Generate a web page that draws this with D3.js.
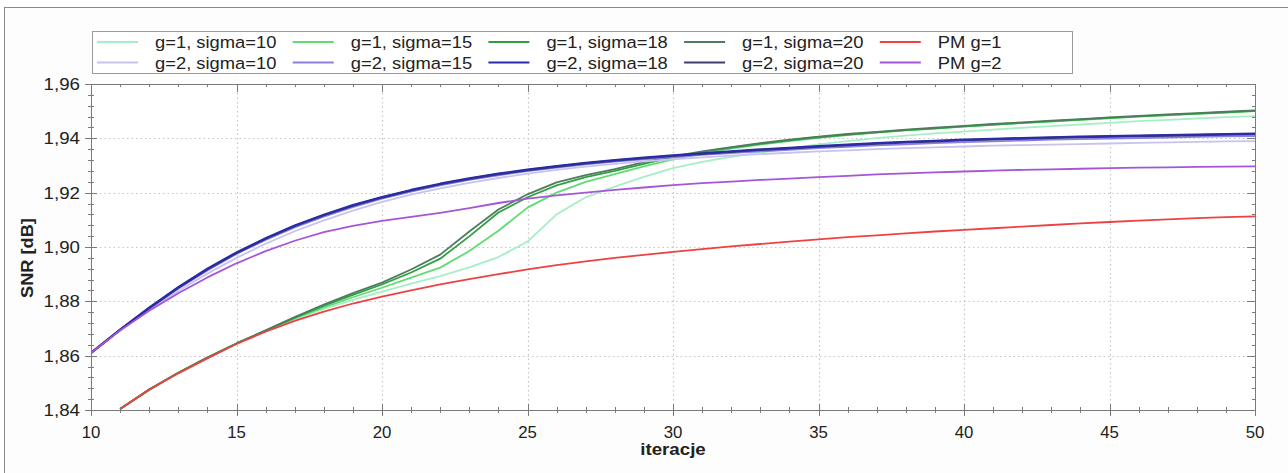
<!DOCTYPE html>
<html>
<head>
<meta charset="utf-8">
<script src="https://cdn.jsdelivr.net/npm/d3@7"></script>
<style>
  html, body { margin: 0; padding: 0; background: #ffffff; }
  svg { display: block; font-family: "Liberation Sans", Arial, sans-serif; }
</style>
</head>
<body>
<svg id="chart" width="1288" height="473"></svg>
<script>
// Iterations 10..50; g=1 runs have no value at iteration 10 (below the plotted range)
const iterations = d3.range(10, 51);

const g1s10 = [null, 1.8404, 1.8475, 1.8537, 1.8593, 1.8645, 1.8690, 1.8733, 1.8772, 1.8805, 1.8836, 1.8865, 1.8893, 1.8925, 1.8963, 1.9020, 1.9120, 1.9183, 1.9222, 1.9258, 1.9290, 1.9313, 1.9332, 1.9348, 1.9363, 1.9378, 1.9390, 1.9401, 1.9410, 1.9418, 1.9425, 1.9432, 1.9439, 1.9445, 1.9451, 1.9457, 1.9463, 1.9468, 1.9473, 1.9478, 1.9482];
const g1s15 = [null, 1.8404, 1.8475, 1.8537, 1.8593, 1.8645, 1.8691, 1.8737, 1.8778, 1.8815, 1.8850, 1.8887, 1.8924, 1.8985, 1.9060, 1.9145, 1.9200, 1.9240, 1.9268, 1.9297, 1.9323, 1.9345, 1.9362, 1.9377, 1.9390, 1.9402, 1.9412, 1.9421, 1.9429, 1.9436, 1.9443, 1.9450, 1.9456, 1.9462, 1.9468, 1.9474, 1.9480, 1.9485, 1.9490, 1.9495, 1.9500];
const g1s18 = [null, 1.8404, 1.8475, 1.8537, 1.8593, 1.8645, 1.8692, 1.8740, 1.8784, 1.8824, 1.8862, 1.8906, 1.8957, 1.9039, 1.9127, 1.9183, 1.9227, 1.9257, 1.9280, 1.9306, 1.9331, 1.9350, 1.9366, 1.9380, 1.9393, 1.9404, 1.9414, 1.9422, 1.9430, 1.9437, 1.9444, 1.9451, 1.9457, 1.9463, 1.9469, 1.9475, 1.9481, 1.9486, 1.9491, 1.9496, 1.9501];
const g1s20 = [null, 1.8404, 1.8475, 1.8537, 1.8593, 1.8645, 1.8693, 1.8742, 1.8788, 1.8830, 1.8869, 1.8917, 1.8972, 1.9057, 1.9138, 1.9194, 1.9238, 1.9265, 1.9287, 1.9312, 1.9334, 1.9352, 1.9368, 1.9382, 1.9395, 1.9406, 1.9416, 1.9424, 1.9432, 1.9439, 1.9446, 1.9453, 1.9459, 1.9465, 1.9471, 1.9477, 1.9483, 1.9488, 1.9493, 1.9498, 1.9503];
const pmG1  = [null, 1.8404, 1.8475, 1.8535, 1.8590, 1.8643, 1.8688, 1.8728, 1.8762, 1.8792, 1.8817, 1.8840, 1.8862, 1.8882, 1.8900, 1.8918, 1.8933, 1.8947, 1.8960, 1.8971, 1.8982, 1.8992, 1.9002, 1.9011, 1.9020, 1.9028, 1.9036, 1.9043, 1.9050, 1.9057, 1.9063, 1.9069, 1.9075, 1.9081, 1.9087, 1.9092, 1.9097, 1.9102, 1.9106, 1.9110, 1.9113];

const g2s10 = [1.8610, 1.8693, 1.8768, 1.8838, 1.8902, 1.8960, 1.9012, 1.9058, 1.9098, 1.9134, 1.9166, 1.9193, 1.9216, 1.9236, 1.9254, 1.9270, 1.9284, 1.9296, 1.9306, 1.9315, 1.9323, 1.9330, 1.9336, 1.9342, 1.9347, 1.9352, 1.9356, 1.9360, 1.9364, 1.9367, 1.9370, 1.9373, 1.9375, 1.9377, 1.9379, 1.9381, 1.9383, 1.9385, 1.9387, 1.9389, 1.9390];
const g2s15 = [1.8610, 1.8694, 1.8773, 1.8847, 1.8914, 1.8974, 1.9026, 1.9072, 1.9112, 1.9147, 1.9178, 1.9204, 1.9227, 1.9247, 1.9264, 1.9279, 1.9292, 1.9304, 1.9314, 1.9323, 1.9331, 1.9339, 1.9346, 1.9352, 1.9358, 1.9364, 1.9369, 1.9374, 1.9378, 1.9382, 1.9386, 1.9389, 1.9392, 1.9395, 1.9397, 1.9399, 1.9401, 1.9403, 1.9405, 1.9407, 1.9408];
const g2s18 = [1.8610, 1.8696, 1.8777, 1.8852, 1.8920, 1.8980, 1.9032, 1.9079, 1.9119, 1.9154, 1.9184, 1.9210, 1.9233, 1.9253, 1.9270, 1.9285, 1.9298, 1.9310, 1.9320, 1.9329, 1.9337, 1.9345, 1.9352, 1.9359, 1.9365, 1.9371, 1.9377, 1.9382, 1.9387, 1.9391, 1.9395, 1.9398, 1.9401, 1.9404, 1.9406, 1.9408, 1.9410, 1.9412, 1.9414, 1.9416, 1.9417];
const g2s20 = [1.8610, 1.8695, 1.8775, 1.8850, 1.8918, 1.8978, 1.9030, 1.9077, 1.9117, 1.9152, 1.9182, 1.9208, 1.9231, 1.9251, 1.9268, 1.9283, 1.9296, 1.9308, 1.9318, 1.9327, 1.9335, 1.9343, 1.9350, 1.9357, 1.9363, 1.9369, 1.9375, 1.9380, 1.9385, 1.9389, 1.9393, 1.9396, 1.9399, 1.9402, 1.9404, 1.9406, 1.9408, 1.9410, 1.9412, 1.9414, 1.9415];
const pmG2  = [1.8610, 1.8693, 1.8765, 1.8830, 1.8888, 1.8940, 1.8985, 1.9023, 1.9055, 1.9078, 1.9096, 1.9111, 1.9126, 1.9143, 1.9162, 1.9178, 1.9190, 1.9200, 1.9210, 1.9219, 1.9228, 1.9235, 1.9241, 1.9247, 1.9252, 1.9257, 1.9262, 1.9267, 1.9271, 1.9275, 1.9278, 1.9281, 1.9284, 1.9286, 1.9288, 1.9290, 1.9292, 1.9293, 1.9295, 1.9296, 1.9297];

const seriesNames = [
  "g=1, sigma=10", "g=1, sigma=15", "g=1, sigma=18", "g=1, sigma=20", "PM g=1",
  "g=2, sigma=10", "g=2, sigma=15", "g=2, sigma=18", "g=2, sigma=20", "PM g=2"
];
const seriesValues = [g1s10, g1s15, g1s18, g1s20, pmG1, g2s10, g2s15, g2s18, g2s20, pmG2];
const seriesColors = [
  "#a6efc6", "#5fdc72", "#2f9f44", "#4e7c5c", "#ee4242",
  "#c6c4ee", "#8b80e0", "#2b2ba8", "#3d3d6e", "#a556d8"
];
// painting order: the g=2, sigma=18 curve sits on top of its near-identical siblings
const drawOrder = [0, 1, 2, 3, 4, 5, 6, 8, 7, 9];

const xTicks = [10, 15, 20, 25, 30, 35, 40, 45, 50];
const yTicks = [1.84, 1.86, 1.88, 1.90, 1.92, 1.94, 1.96];

const svg = d3.select("#chart");
const W = 1288, H = 473;
const plot = { left: 91, right: 1255, top: 84, bottom: 410 };

const x = d3.scaleLinear().domain([10, 50]).range([plot.left, plot.right]);
const y = d3.scaleLinear().domain([1.84, 1.96]).range([plot.bottom, plot.top]);

// text placed with a slight horizontal stretch (wide sans look)
function label(parent, tx, ty, str, opts) {
  const o = Object.assign({ size: 16, anchor: "start", weight: "normal", sx: 1, rotate: 0 }, opts);
  return parent.append("text")
    .attr("transform", `translate(${tx},${ty})` + (o.rotate ? ` rotate(${o.rotate})` : "") + ` scale(${o.sx},1)`)
    .attr("text-anchor", o.anchor)
    .attr("font-size", o.size)
    .attr("font-weight", o.weight)
    .attr("fill", "#222")
    .text(str);
}

// outer panel
svg.append("rect").attr("x", 0).attr("y", 0).attr("width", W).attr("height", H).attr("fill", "#ffffff");
svg.append("rect").attr("x", 4.5).attr("y", 7.5).attr("width", W + 10).attr("height", H + 10)
  .attr("fill", "#fdfdfd").attr("stroke", "#8a8a8a").attr("stroke-width", 1);

// plot background
svg.append("rect").attr("x", plot.left).attr("y", plot.top)
  .attr("width", plot.right - plot.left).attr("height", plot.bottom - plot.top)
  .attr("fill", "#ffffff");

// dotted grid
const grid = svg.append("g").attr("stroke", "#c4c4c4").attr("stroke-width", 1.2)
  .attr("stroke-dasharray", "1.5,3");
grid.selectAll("line.gx").data(xTicks.slice(1, -1)).join("line")
  .attr("x1", d => Math.round(x(d)) + 0.5).attr("x2", d => Math.round(x(d)) + 0.5)
  .attr("y1", plot.top).attr("y2", plot.bottom);
grid.selectAll("line.gy").data(yTicks.slice(1, -1)).join("line")
  .attr("y1", d => Math.round(y(d)) + 0.5).attr("y2", d => Math.round(y(d)) + 0.5)
  .attr("x1", plot.left).attr("x2", plot.right);

// data lines
const clipId = "plotclip";
svg.append("clipPath").attr("id", clipId).append("rect")
  .attr("x", plot.left).attr("y", plot.top)
  .attr("width", plot.right - plot.left).attr("height", plot.bottom - plot.top + 1);

const line = d3.line()
  .defined(d => d.v !== null)
  .x(d => x(d.i))
  .y(d => y(d.v));

const lines = svg.append("g").attr("clip-path", `url(#${clipId})`);
drawOrder.forEach(k => {
  const vals = seriesValues[k];
  const pts = iterations.map((it, j) => ({ i: it, v: vals[j] }));
  lines.append("path")
    .attr("d", line(pts))
    .attr("fill", "none")
    .attr("stroke", seriesColors[k])
    .attr("stroke-width", k === 7 || k === 8 ? 2.2 : 1.8)
    .attr("stroke-linejoin", "round");
});

// axes frame
const axisColor = "#7a7a7a";
svg.append("rect")
  .attr("x", plot.left + 0.5).attr("y", plot.top + 0.5)
  .attr("width", plot.right - plot.left).attr("height", plot.bottom - plot.top)
  .attr("fill", "none").attr("stroke", axisColor).attr("stroke-width", 1);

// ticks: minor every 1 iteration / 0.004 dB; majors at labels
const xMinor = d3.range(10, 51, 1);
const yMinor = d3.range(0, 31).map(k => 1.84 + k * 0.004);
const px = v => Math.round(x(v)) + 0.5;
const py = v => Math.round(y(v)) + 0.5;
const isMajorX = v => xTicks.includes(v);
const isMajorY = v => yTicks.some(t => Math.abs(t - v) < 1e-6);

const tk = svg.append("g").attr("stroke", axisColor).attr("stroke-width", 1);
xMinor.forEach(v => {
  const len = isMajorX(v) ? 6 : 3;
  tk.append("line").attr("x1", px(v)).attr("x2", px(v))
    .attr("y1", plot.bottom - len).attr("y2", plot.bottom + len);
  tk.append("line").attr("x1", px(v)).attr("x2", px(v))
    .attr("y1", plot.top).attr("y2", plot.top + (isMajorX(v) ? 8 : 3));
});
yMinor.forEach(v => {
  const len = isMajorY(v) ? 6 : 3;
  tk.append("line").attr("y1", py(v)).attr("y2", py(v))
    .attr("x1", plot.left - len).attr("x2", plot.left + len);
  tk.append("line").attr("y1", py(v)).attr("y2", py(v))
    .attr("x1", plot.right - (isMajorY(v) ? 8 : 3)).attr("x2", plot.right);
});

// tick labels
const fmtY = d3.format(".2f");
const yLab = svg.append("g");
yTicks.forEach(d => label(yLab, plot.left - 11, y(d) + 6, fmtY(d).replace(".", ","), { size: 17, anchor: "end", sx: 1.1 }));
const xLab = svg.append("g");
xTicks.forEach(d => label(xLab, x(d), 438, String(d), { size: 16, anchor: "middle", sx: 1.05 }));

// axis titles
label(svg, (plot.left + plot.right) / 2, 455, "iteracje", { size: 17, anchor: "middle", weight: "bold", sx: 1.1 });
label(svg, 33, 258, "SNR [dB]", { size: 17, anchor: "middle", weight: "bold", sx: 1.07, rotate: -90 });

// legend
const legend = svg.append("g");
legend.append("rect").attr("x", 92.5).attr("y", 31.5).attr("width", 980).attr("height", 42)
  .attr("fill", "#ffffff").attr("stroke", "#9a9a9a").attr("stroke-width", 1);
seriesNames.forEach((name, k) => {
  const col = k % 5, row = Math.floor(k / 5);
  const lx = 97 + col * 195.7;
  const ly = 42 + row * 20.5;
  legend.append("line").attr("x1", lx).attr("x2", lx + 41)
    .attr("y1", ly).attr("y2", ly)
    .attr("stroke", seriesColors[k]).attr("stroke-width", 2);
  label(legend, lx + 58, ly + 6, name, { size: 17, sx: 1.08 });
});
</script>
</body>
</html>
